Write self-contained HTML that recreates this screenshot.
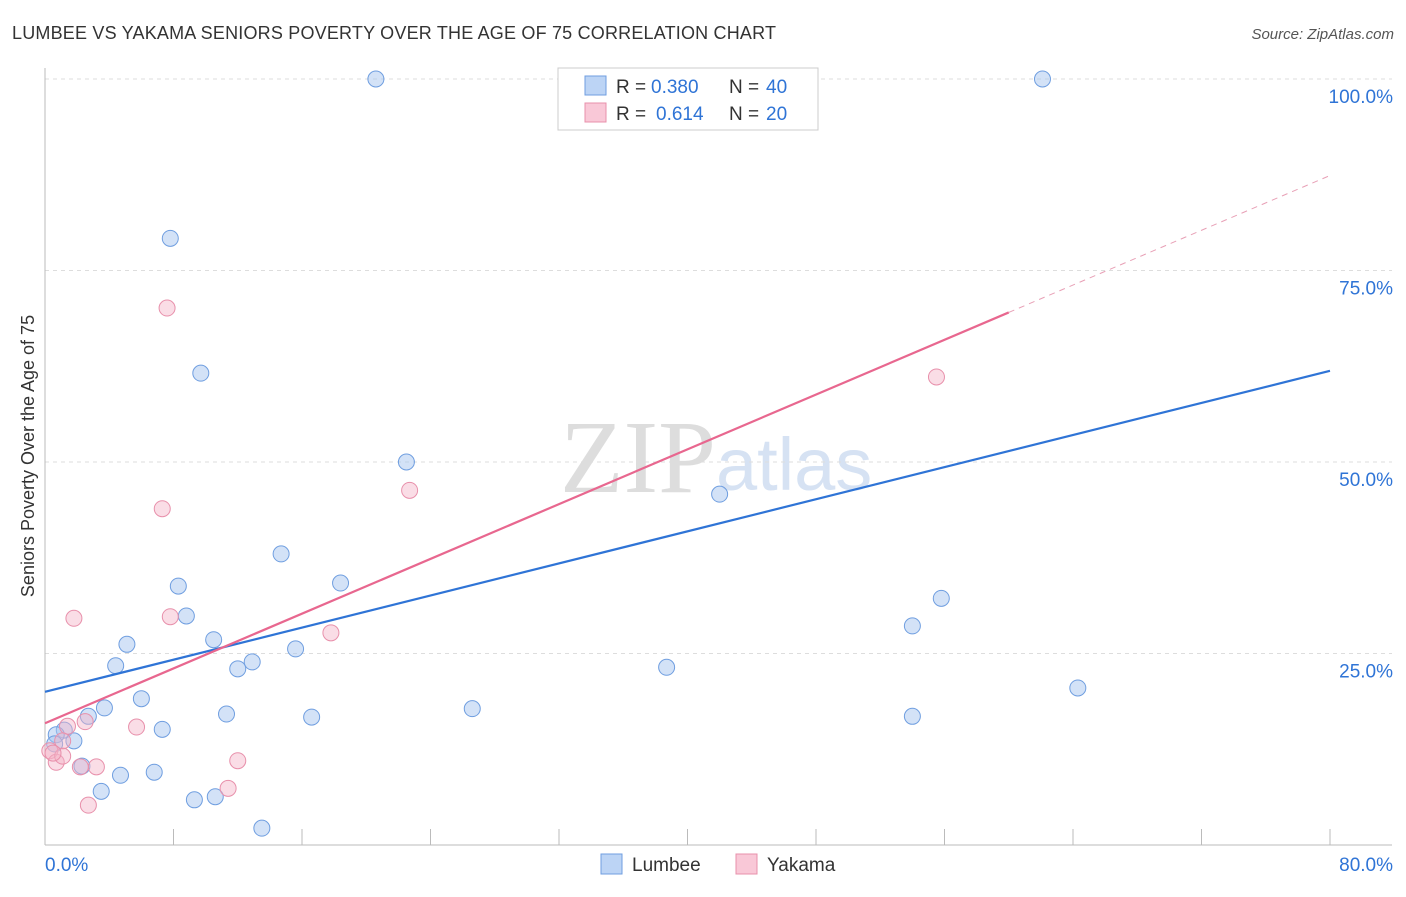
<!DOCTYPE html>
<html><head><meta charset="utf-8"><style>
body{margin:0;background:#fff;font-family:"Liberation Sans",sans-serif;}
</style></head><body>
<svg id="chart" width="1406" height="892" xmlns="http://www.w3.org/2000/svg">
<text x="12" y="39" font-size="18" fill="#333" textLength="764">LUMBEE VS YAKAMA SENIORS POVERTY OVER THE AGE OF 75 CORRELATION CHART</text>
<text x="1394" y="39" font-size="15" fill="#555" font-style="italic" text-anchor="end">Source: ZipAtlas.com</text>
<text x="716" y="492" font-size="104" fill="#ddd" text-anchor="end" font-family="Liberation Serif">ZIP</text>
<text x="716" y="490" font-size="74" fill="#d6e2f3">atlas</text>
<text transform="translate(34,456) rotate(-90)" font-size="18" fill="#333" text-anchor="middle">Seniors Poverty Over the Age of 75</text>
<g id="grid"></g><g id="marks"></g>
<g>
<rect x="558" y="68" width="260" height="62" fill="#fff" stroke="#ccc"/>
<rect x="585" y="76" width="21" height="19" fill="#bcd4f5" stroke="#6f9ee0"/>
<rect x="585" y="103" width="21" height="19" fill="#f9c8d7" stroke="#e890ab"/>
<g font-size="19" fill="#333">
<text x="616" y="93">R =</text>
<text x="651" y="93" fill="#2f74d6">0.380</text>
<text x="729" y="93">N =</text>
<text x="766" y="93" fill="#2f74d6">40</text>
<text x="616" y="120">R =</text>
<text x="656" y="120" fill="#2f74d6">0.614</text>
<text x="729" y="120">N =</text>
<text x="766" y="120" fill="#2f74d6">20</text>
</g>
</g>
<g>
<rect x="601" y="854" width="21" height="20" fill="#bcd4f5" stroke="#6f9ee0"/>
<text x="632" y="871" font-size="19" fill="#333">Lumbee</text>
<rect x="736" y="854" width="21" height="20" fill="#f9c8d7" stroke="#e890ab"/>
<text x="767" y="871" font-size="19" fill="#333">Yakama</text>
</g>
</svg>
<script>
const lumbeeX=[20.6,62.1,37.9,7.8,9.7,22.5,42.0,14.7,8.3,18.4,55.8,8.8,54.0,5.1,10.5,15.6,12.9,12.0,4.4,38.7,64.3,6.0,3.7,26.6,2.7,11.3,16.6,54.0,7.3,1.2,0.7,1.8,0.6,2.3,6.8,4.7,3.5,9.3,10.6,13.5];
const lumbeeY=[100,100,100,79.2,61.6,50.0,45.8,38.0,33.8,34.2,32.2,29.9,28.6,26.2,26.8,25.6,23.9,23.0,23.4,23.2,20.5,19.1,17.9,17.8,16.8,17.1,16.7,16.8,15.1,15.0,14.4,13.6,13.2,10.3,9.5,9.1,7.0,5.9,6.3,2.2];
const yakamaX=[7.6,55.5,22.7,7.3,1.8,7.8,17.8,1.4,2.5,5.7,1.1,0.3,0.7,1.1,2.2,3.2,12.0,11.4,2.7,0.5];
const yakamaY=[70.1,61.1,46.3,43.9,29.6,29.8,27.7,15.5,16.1,15.4,13.6,12.3,10.8,11.6,10.2,10.2,11.0,7.4,5.2,12.0];
const lumbeeTrend=[20.0,61.9];
const yakamaTrend=[15.9,87.4];
const yakamaSolidEnd=60;
const yTicks=[25,50,75,100];
const yTickLabels=["25.0%","50.0%","75.0%","100.0%"];
const xTicks=[0,8,16,24,32,40,48,56,64,72,80];

const NS="http://www.w3.org/2000/svg";
const sx=v=>45+v*1285/80, sy=v=>845-v*7.66;
function mk(tag,attrs,parent){const e=document.createElementNS(NS,tag);for(const k in attrs)e.setAttribute(k,attrs[k]);parent.appendChild(e);return e;}
const grid=document.getElementById('grid'), marks=document.getElementById('marks');
yTicks.forEach((t,i)=>{
 let l=mk('line',{x1:45,x2:1392,y1:sy(t),y2:sy(t),stroke:'#ddd','stroke-dasharray':'4,4'},grid);
 
 
 let tx=mk('text',{x:1393,y:sy(t)+24,'font-size':19,fill:'#2f74d6','text-anchor':'end'},grid);
 tx.textContent=yTickLabels[i];
 
 
});
let ax=mk('line',{x1:45,x2:45,y1:68,y2:845,stroke:'#bbb'},grid);


let bx=mk('line',{x1:45,x2:1392,y1:845,y2:845,stroke:'#bbb'},grid);


xTicks.forEach(t=>{
 let l=mk('line',{x1:sx(t),x2:sx(t),y1:829,y2:845,stroke:'#bbb'},grid);
 
 
});
[[0,"0.0%","start",45],[80,"80.0%","end",1393]].forEach(a=>{
 let tx=mk('text',{x:a[3],y:871,'font-size':19,fill:'#2f74d6','text-anchor':a[2]},grid);
 tx.textContent=a[1];
 
 
});
lumbeeX.forEach((x,i)=>{
 let c=mk('circle',{cx:sx(x),cy:sy(lumbeeY[i]),r:8,fill:'rgba(168,198,240,0.5)',stroke:'#6f9ee0','stroke-width':1},marks);
 
 
});
yakamaX.forEach((x,i)=>{
 let c=mk('circle',{cx:sx(x),cy:sy(yakamaY[i]),r:8,fill:'rgba(245,180,200,0.45)',stroke:'#e890ab','stroke-width':1},marks);
 
 
});
let bl=mk('line',{x1:sx(0),y1:sy(lumbeeTrend[0]),x2:sx(80),y2:sy(lumbeeTrend[1]),stroke:'#2f74d6','stroke-width':2.2},marks);


const yAt=x=>yakamaTrend[0]+(yakamaTrend[1]-yakamaTrend[0])*x/80;
let pl=mk('line',{x1:sx(0),y1:sy(yAt(0)),x2:sx(yakamaSolidEnd),y2:sy(yAt(yakamaSolidEnd)),stroke:'#e8678f','stroke-width':2.2},marks);


let pd=mk('line',{x1:sx(yakamaSolidEnd),y1:sy(yAt(yakamaSolidEnd)),x2:sx(80),y2:sy(yAt(80)),stroke:'#e8a0b6','stroke-width':1,'stroke-dasharray':'6,5'},marks);


</script>
</body></html>
